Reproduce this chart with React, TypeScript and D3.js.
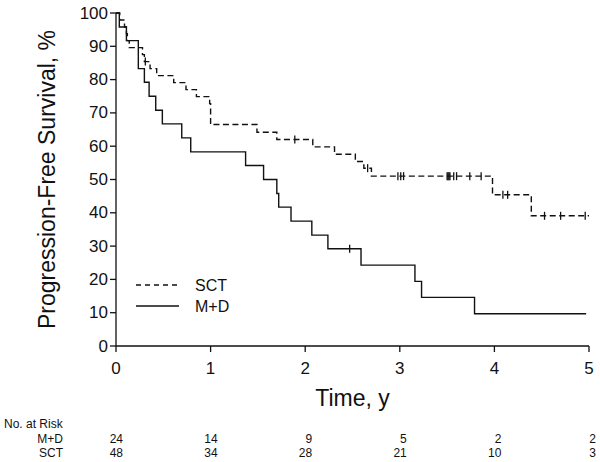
import React from "react";
import * as d3 from "d3";

// Kaplan-Meier steps: [time (years), survival % after the drop]
const sctSteps: [number, number][] = [
  [0, 100], [0.04, 97.9], [0.09, 95.8], [0.11, 93.8], [0.12, 91.7], [0.14, 89.6],
  [0.28, 87.5], [0.3, 85.4], [0.36, 83.3], [0.43, 81.2], [0.61, 79.1], [0.74, 77.0],
  [0.85, 74.9], [0.99, 72.8], [1.0, 66.5], [1.49, 64.2], [1.7, 62.0], [2.08, 59.8],
  [2.31, 57.6], [2.53, 55.4], [2.62, 53.4], [2.7, 51.0], [3.98, 45.4], [4.39, 39.1],
];
const sctEnd = 5.0;
const sctCensor: number[] = [0.31, 1.89, 2.66, 2.98, 3.01, 3.04, 3.5, 3.51, 3.52, 3.53, 3.57, 3.6, 3.74, 3.86, 4.09, 4.14, 4.53, 4.7, 4.96];

const mdSteps: [number, number][] = [
  [0, 100], [0.035, 95.8], [0.11, 91.7], [0.236, 83.3], [0.3, 79.2], [0.35, 75.0],
  [0.42, 70.8], [0.49, 66.7], [0.695, 62.5], [0.79, 58.3], [1.37, 54.2], [1.56, 50.0],
  [1.7, 45.8], [1.72, 41.7], [1.85, 37.5], [2.07, 33.3], [2.24, 29.2], [2.59, 24.3],
  [3.16, 19.4], [3.23, 14.6], [3.79, 9.7],
];
const mdEnd = 4.97;
const mdCensor: number[] = [2.47];

const xTicks = [0, 1, 2, 3, 4, 5];
const yTicks = [0, 10, 20, 30, 40, 50, 60, 70, 80, 90, 100];
const riskMD = [24, 14, 9, 5, 2, 2];
const riskSCT = [48, 34, 28, 21, 10, 3];

const FONT = "'Liberation Sans', Arial, sans-serif";

export default function App() {
  const x = d3.scaleLinear().domain([0, 5]).range([116, 589]);
  const y = d3.scaleLinear().domain([0, 100]).range([346, 13]);

  const pathFor = (steps: [number, number][], end: number) => {
    const pts: [number, number][] = steps.map((s) => [s[0], s[1]]);
    pts.push([end, steps[steps.length - 1][1]]);
    const line = d3
      .line<[number, number]>()
      .x((d) => x(d[0]))
      .y((d) => y(d[1]))
      .curve(d3.curveStepAfter);
    return line(pts) || "";
  };

  const survAt = (steps: [number, number][], t: number) => {
    let v = 100;
    for (const s of steps) if (s[0] <= t) v = s[1];
    return v;
  };

  const stroke = "#111";

  return (
    <svg width={600} height={462} style={{ position: "absolute", left: 0, top: 0, background: "#fff" }} fontFamily={FONT}>
      <rect x={0} y={0} width={600} height={462} fill="#fff" />
      {/* axes */}
      <line x1={x(0)} x2={x(0)} y1={y(0)} y2={y(100)} stroke={stroke} strokeWidth={1.3} />
      <line x1={x(0)} x2={x(5)} y1={y(0)} y2={y(0)} stroke={stroke} strokeWidth={1.3} />
      {yTicks.map((t) => (
        <g key={"y" + t}>
          <line x1={x(0) - 6} x2={x(0)} y1={y(t)} y2={y(t)} stroke={stroke} strokeWidth={1.3} />
          <text x={x(0) - 8} y={y(t)} textAnchor="end" dominantBaseline="central" fontSize={17} fill="#111">
            {t}
          </text>
        </g>
      ))}
      {xTicks.map((t) => (
        <g key={"x" + t}>
          <line x1={x(t)} x2={x(t)} y1={y(0)} y2={y(0) + 6} stroke={stroke} strokeWidth={1.3} />
          <text x={x(t)} y={368} textAnchor="middle" dominantBaseline="central" fontSize={17} fill="#111">
            {t}
          </text>
        </g>
      ))}
      <text x={(x(0) + x(5)) / 2} y={398} textAnchor="middle" dominantBaseline="central" fontSize={23} fill="#111">
        Time, y
      </text>
      <text
        transform={`translate(47, ${(y(0) + y(100)) / 2}) rotate(-90)`}
        textAnchor="middle"
        dominantBaseline="central"
        fontSize={23}
        fill="#111"
      >
        Progression-Free Survival, %
      </text>

      {/* curves */}
      <path d={pathFor(sctSteps, sctEnd)} fill="none" stroke={stroke} strokeWidth={1.4} strokeDasharray="6,3.5" />
      <path d={pathFor(mdSteps, mdEnd)} fill="none" stroke={stroke} strokeWidth={1.4} />
      {sctCensor.map((t, i) => (
        <line key={"cs" + i} x1={x(t)} x2={x(t)} y1={y(survAt(sctSteps, t)) - 4} y2={y(survAt(sctSteps, t)) + 4} stroke={stroke} strokeWidth={1.3} />
      ))}
      {mdCensor.map((t, i) => (
        <line key={"cm" + i} x1={x(t)} x2={x(t)} y1={y(survAt(mdSteps, t)) - 4} y2={y(survAt(mdSteps, t)) + 4} stroke={stroke} strokeWidth={1.3} />
      ))}

      {/* legend */}
      <line x1={136} x2={179} y1={285} y2={285} stroke={stroke} strokeWidth={1.4} strokeDasharray="5,4" />
      <text x={195} y={285} dominantBaseline="central" fontSize={16} fill="#111">SCT</text>
      <line x1={136} x2={179} y1={306} y2={306} stroke={stroke} strokeWidth={1.4} />
      <text x={195} y={306} dominantBaseline="central" fontSize={16} fill="#111">M+D</text>

      {/* number at risk */}
      <text x={4} y={424} dominantBaseline="central" fontSize={12} fill="#111">No. at Risk</text>
      <text x={63} y={439} textAnchor="end" dominantBaseline="central" fontSize={12} fill="#111">M+D</text>
      <text x={63} y={453} textAnchor="end" dominantBaseline="central" fontSize={12} fill="#111">SCT</text>
      {riskMD.map((n, i) => (
        <text key={"rm" + i} x={x(xTicks[i]) + 7} y={439} textAnchor="end" dominantBaseline="central" fontSize={12} fill="#111">
          {n}
        </text>
      ))}
      {riskSCT.map((n, i) => (
        <text key={"rs" + i} x={x(xTicks[i]) + 7} y={453} textAnchor="end" dominantBaseline="central" fontSize={12} fill="#111">
          {n}
        </text>
      ))}
    </svg>
  );
}
